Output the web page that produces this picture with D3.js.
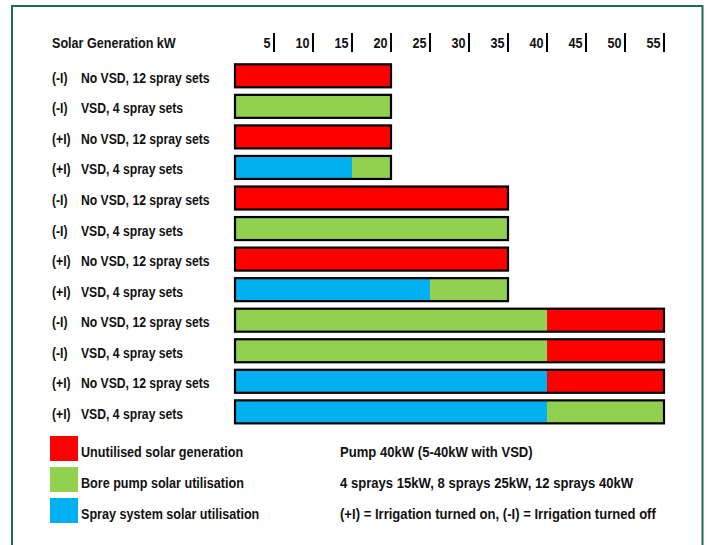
<!DOCTYPE html>
<html>
<head>
<meta charset="utf-8">
<script src="https://cdn.jsdelivr.net/npm/d3@7"></script>
<style>
  html, body { margin: 0; padding: 0; background: #fff; }
  svg text { font-family: "Liberation Sans", Arial, sans-serif; font-weight: bold; fill: #111; }
</style>
</head>
<body>
<svg id="chart" width="709" height="545"></svg>
<script>
// Scenario rows, top to bottom
const scenarios = [
  "(-I)|No VSD, 12 spray sets",
  "(-I)|VSD, 4 spray sets",
  "(+I)|No VSD, 12 spray sets",
  "(+I)|VSD, 4 spray sets",
  "(-I)|No VSD, 12 spray sets",
  "(-I)|VSD, 4 spray sets",
  "(+I)|No VSD, 12 spray sets",
  "(+I)|VSD, 4 spray sets",
  "(-I)|No VSD, 12 spray sets",
  "(-I)|VSD, 4 spray sets",
  "(+I)|No VSD, 12 spray sets",
  "(+I)|VSD, 4 spray sets"
];

// kW per component for each row
const spraySystem  = [0, 0, 0, 15,  0, 0, 0, 25,  0, 0, 40, 40];
const borePump     = [0, 20, 0, 5,  0, 35, 0, 10,  40, 40, 0, 15];
const unutilised   = [20, 0, 20, 0,  35, 0, 35, 0,  15, 15, 15, 0];

const tickValues = [5, 10, 15, 20, 25, 30, 35, 40, 45, 50, 55];

const seriesKeys   = ["spray", "bore", "unused"];
const seriesColors = { spray: "#00b0f0", bore: "#92d050", unused: "#ff0000" };

const legendItems = [
  { key: "unused", label: "Unutilised solar generation" },
  { key: "bore",   label: "Bore pump solar utilisation" },
  { key: "spray",  label: "Spray system solar utilisation" }
];
const notes = [
  "Pump 40kW (5-40kW with VSD)",
  "4 sprays 15kW, 8 sprays 25kW, 12 sprays 40kW",
  "(+I) = Irrigation turned on, (-I) = Irrigation turned off"
];

const rows = scenarios.map((s, i) => ({
  idx: i,
  tag: s.split("|")[0],
  name: s.split("|")[1],
  spray: spraySystem[i],
  bore: borePump[i],
  unused: unutilised[i]
}));

const svg = d3.select("#chart");
const fontSize = 14;

// place a text at (px, py), narrowed horizontally around its anchor point
function placeText(sel, px, py, squeeze = 0.9) {
  sel.attr("transform", (d, i) =>
    `translate(${px(d, i)},${py(d, i)}) scale(${squeeze},1)`)
    .attr("font-size", fontSize);
}

// outer frame
svg.append("rect")
  .attr("x", 12).attr("y", 6)
  .attr("width", 690.5).attr("height", 560)
  .attr("fill", "none")
  .attr("stroke", "#1f6b4c")
  .attr("stroke-width", 2);

const x = d3.scaleLinear().domain([0, 55]).range([235, 664]);

const y = d3.scaleBand()
  .domain(d3.range(rows.length))
  .range([64.3, 64.3 + 12 * 30.55 - 7.55])
  .paddingInner(7.55 / 30.55)
  .paddingOuter(0);

// header and top scale
svg.append("text")
  .call(placeText, () => 52, () => 48)
  .text("Solar Generation kW");

const ticks = svg.append("g").attr("class", "scale");
ticks.selectAll("line").data(tickValues).join("line")
  .attr("x1", d => x(d)).attr("x2", d => x(d))
  .attr("y1", 33).attr("y2", 52)
  .attr("stroke", "#000").attr("stroke-width", 2);
ticks.selectAll("text").data(tickValues).join("text")
  .call(placeText, d => x(d) - 3.5, () => 48)
  .attr("text-anchor", "end")
  .text(d => d);

// row labels
const rowY = d => y(d.idx) + y.bandwidth() / 2 + 7;
const labels = svg.append("g");
labels.selectAll("text.tag").data(rows).join("text")
  .attr("class", "tag")
  .call(placeText, () => 52, rowY, 0.87)
  .text(d => d.tag);
labels.selectAll("text.name").data(rows).join("text")
  .attr("class", "name")
  .call(placeText, () => 81, rowY, 0.87)
  .text(d => d.name);

// stacked bars
const stacked = d3.stack().keys(seriesKeys)(rows);
svg.append("g").selectAll("g").data(stacked).join("g")
  .attr("fill", s => seriesColors[s.key])
  .selectAll("rect").data(s => s).join("rect")
  .attr("x", d => x(d[0]))
  .attr("y", d => y(d.data.idx))
  .attr("width", d => x(d[1]) - x(d[0]))
  .attr("height", y.bandwidth());

// bar outlines
svg.append("g").selectAll("rect").data(rows).join("rect")
  .attr("x", x(0))
  .attr("y", d => y(d.idx))
  .attr("width", d => x(d.spray + d.bore + d.unused) - x(0))
  .attr("height", y.bandwidth())
  .attr("fill", "none")
  .attr("stroke", "#000")
  .attr("stroke-width", 2.2);

// legend
const legend = svg.append("g");
legend.selectAll("rect").data(legendItems).join("rect")
  .attr("x", 50).attr("y", (d, i) => 436 + i * 31)
  .attr("width", 28).attr("height", 25)
  .attr("fill", d => seriesColors[d.key]);
legend.selectAll("text").data(legendItems).join("text")
  .call(placeText, () => 81, (d, i) => 457 + i * 31)
  .text(d => d.label);

// assumptions beside the legend
svg.append("g").selectAll("text").data(notes).join("text")
  .call(placeText, () => 340, (d, i) => 457 + i * 31, 0.935)
  .text(d => d);
</script>
</body>
</html>
